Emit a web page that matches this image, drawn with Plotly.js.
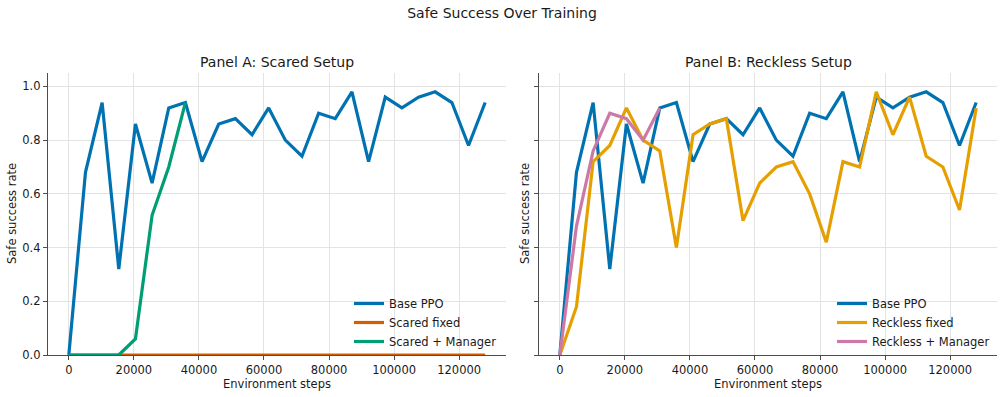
<!DOCTYPE html>
<html>
<head>
<meta charset="utf-8">
<script src="https://cdn.plot.ly/plotly-3.0.1.min.js"></script>
<style>
  html, body { margin: 0; padding: 0; background: #ffffff; }
  #chart { width: 1004px; height: 397px; }
</style>
</head>
<body>
<div id="chart"></div>
<script>
// Environment steps at each evaluation
const steps = [0, 5120, 10240, 15360, 20480, 25600, 30720, 35840, 40960, 46080,
  51200, 56320, 61440, 66560, 71680, 76800, 81920, 87040, 92160, 97280,
  102400, 107520, 112640, 117760, 122880, 128000];

// Safe success rate per run
const basePPO = [0, 0.68, 0.94, 0.32, 0.86, 0.64, 0.92, 0.94, 0.72, 0.86,
  0.88, 0.82, 0.92, 0.80, 0.74, 0.90, 0.88, 0.98, 0.72, 0.96,
  0.92, 0.96, 0.98, 0.94, 0.78, 0.94];
const scaredFixed = [0, 0, 0, 0, 0, 0, 0, 0, 0, 0,
  0, 0, 0, 0, 0, 0, 0, 0, 0, 0,
  0, 0, 0, 0, 0, 0];
const scaredManager = [0, 0, 0, 0, 0.06, 0.52, 0.70, 0.94];
const recklessFixed = [0, 0.18, 0.72, 0.78, 0.92, 0.80, 0.76, 0.40, 0.82, 0.86,
  0.88, 0.50, 0.64, 0.70, 0.72, 0.60, 0.42, 0.72, 0.70, 0.98,
  0.82, 0.96, 0.74, 0.70, 0.54, 0.92];
const recklessManager = [0, 0.48, 0.76, 0.90, 0.88, 0.80, 0.92];

// Tick labels
const xTickVals = [0, 20000, 40000, 60000, 80000, 100000, 120000];
const xTickText = ['0', '20000', '40000', '60000', '80000', '100000', '120000'];
const yTickVals = [0, 0.2, 0.4, 0.6, 0.8, 1.0];
const yTickText = ['0.0', '0.2', '0.4', '0.6', '0.8', '1.0'];

const FONT = 'DejaVu Sans, sans-serif';
const TXT = '#1a1a1a';
const W = 1004, H = 397;
const px = v => v / W;
const py = v => 1 - v / H;

function line(x, y, name, color, xa, ya, legend) {
  return {
    type: 'scatter', mode: 'lines', x: x, y: y, name: name,
    line: { color: color, width: 3.2 },
    xaxis: xa, yaxis: ya, legend: legend, hoverinfo: 'skip'
  };
}

const traces = [
  line(steps, basePPO, 'Base PPO', '#0072B2', 'x', 'y', 'legend'),
  line(steps, scaredFixed, 'Scared fixed', '#D55E00', 'x', 'y', 'legend'),
  line(steps.slice(0, scaredManager.length), scaredManager, 'Scared + Manager', '#009E73', 'x', 'y', 'legend'),
  line(steps, basePPO, 'Base PPO', '#0072B2', 'x2', 'y2', 'legend2'),
  line(steps, recklessFixed, 'Reckless fixed', '#E69F00', 'x2', 'y2', 'legend2'),
  line(steps.slice(0, recklessManager.length), recklessManager, 'Reckless + Manager', '#CC79A7', 'x2', 'y2', 'legend2')
];

function xAxis(domain, anchor) {
  return {
    domain: domain, anchor: anchor, range: [-6400, 134400],
    tickmode: 'array', tickvals: xTickVals, ticktext: xTickText,
    showgrid: true, gridcolor: '#e3e3e3', gridwidth: 1, zeroline: false,
    showline: true, linecolor: '#4d4d4d', linewidth: 1.2,
    ticks: 'outside', ticklen: 4, tickwidth: 1, tickcolor: '#4d4d4d',
    tickfont: { family: FONT, size: 11.5, color: TXT },
    title: { text: 'Environment steps', font: { family: FONT, size: 11.5, color: TXT }, standoff: 2 },
    automargin: false, fixedrange: true
  };
}
function yAxis(domain, anchor, labels) {
  return {
    domain: domain, anchor: anchor, range: [0, 1.05],
    tickmode: 'array', tickvals: yTickVals, ticktext: yTickText,
    showticklabels: labels,
    showgrid: true, gridcolor: '#e3e3e3', gridwidth: 1, zeroline: false,
    showline: true, linecolor: '#4d4d4d', linewidth: 1.2,
    ticks: 'outside', ticklen: 4, tickwidth: 1, tickcolor: '#4d4d4d',
    tickfont: { family: FONT, size: 11.5, color: TXT },
    automargin: false, fixedrange: true
  };
}

const yDom = [py(355), py(73)];
const legendStyle = { xanchor: 'left', yanchor: 'top', bgcolor: 'rgba(0,0,0,0)',
  borderwidth: 0, font: { family: FONT, size: 11.5, color: TXT }, tracegroupgap: 0 };

const layout = {
  width: W, height: H,
  margin: { l: 0, r: 0, t: 0, b: 0 },
  paper_bgcolor: '#ffffff', plot_bgcolor: '#ffffff',
  font: { family: FONT, color: TXT },
  title: { text: 'Safe Success Over Training', x: 0.5, xanchor: 'center', y: py(13), yanchor: 'middle',
    font: { family: FONT, size: 14, color: TXT } },
  xaxis: xAxis([px(48), px(506)], 'y'),
  yaxis: yAxis(yDom, 'x', true),
  xaxis2: xAxis([px(539), px(997)], 'y2'),
  yaxis2: yAxis(yDom, 'x2', false),
  showlegend: true,
  legend: Object.assign({ x: px(349), y: py(289) }, legendStyle),
  legend2: Object.assign({ x: px(832), y: py(289) }, legendStyle),
  annotations: [
    { text: 'Panel A: Scared Setup', xref: 'paper', yref: 'paper', x: px(277), y: py(62),
      xanchor: 'center', yanchor: 'middle', showarrow: false, font: { family: FONT, size: 14, color: TXT } },
    { text: 'Panel B: Reckless Setup', xref: 'paper', yref: 'paper', x: px(768), y: py(62),
      xanchor: 'center', yanchor: 'middle', showarrow: false, font: { family: FONT, size: 14, color: TXT } },
    { text: 'Safe success rate', xref: 'paper', yref: 'paper', x: px(12), y: py(214), textangle: -90,
      xanchor: 'center', yanchor: 'middle', showarrow: false, font: { family: FONT, size: 11.5, color: TXT } },
    { text: 'Safe success rate', xref: 'paper', yref: 'paper', x: px(525), y: py(214), textangle: -90,
      xanchor: 'center', yanchor: 'middle', showarrow: false, font: { family: FONT, size: 11.5, color: TXT } }
  ]
};

Plotly.newPlot('chart', traces, layout, { staticPlot: true, displayModeBar: false });
</script>
</body>
</html>
